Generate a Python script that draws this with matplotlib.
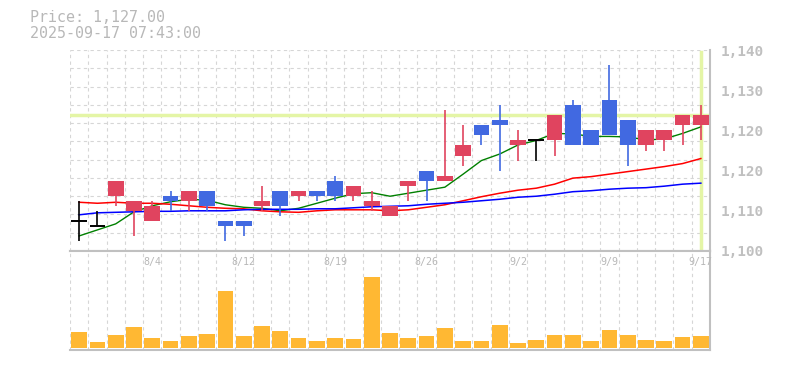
import numpy as np
import matplotlib
matplotlib.use("Agg")
import matplotlib.pyplot as plt

# ----- datos -----
dates = ["7/29", "7/30", "7/31", "8/1", "8/4", "8/5", "8/6", "8/7", "8/8", "8/12",
         "8/13", "8/14", "8/15", "8/18", "8/19", "8/20", "8/21", "8/22", "8/25", "8/26",
         "8/27", "8/28", "8/29", "9/1", "9/2", "9/3", "9/4", "9/5", "9/8", "9/9",
         "9/10", "9/11", "9/12", "9/16", "9/17"]
opens = [1106, 1105, 1111, 1108, 1106, 1111, 1110, 1112, 1106, 1106,
         1109, 1112, 1111, 1112, 1114, 1111, 1109, 1107, 1113, 1116,
         1114, 1119, 1125, 1126, 1121, 1122, 1122, 1129, 1124, 1130,
         1126, 1121, 1122, 1125, 1125]
closes = [1106, 1105, 1114, 1110, 1109, 1110, 1112, 1109, 1105, 1105,
          1110, 1109, 1112, 1111, 1111, 1113, 1110, 1109, 1114, 1114,
          1115, 1121, 1123, 1125, 1122, 1122, 1127, 1121, 1121, 1123,
          1121, 1124, 1124, 1127, 1127]
highs = [1110, 1108, 1114, 1110, 1110, 1112, 1112, 1112, 1106, 1106,
         1113, 1112, 1112, 1112, 1115, 1113, 1112, 1109, 1114, 1116,
         1128, 1125, 1125, 1129, 1124, 1122, 1127, 1130, 1124, 1137,
         1126, 1124, 1124, 1127, 1129]
lows = [1102, 1105, 1109, 1103, 1106, 1108, 1108, 1108, 1102, 1103,
        1108, 1107, 1110, 1110, 1110, 1110, 1108, 1107, 1110, 1110,
        1114, 1117, 1121, 1116, 1118, 1118, 1119, 1121, 1121, 1123,
        1117, 1120, 1120, 1121, 1122]
ma_short = [1103.0, 1104.2, 1105.4, 1107.8, 1109.0, 1109.8, 1110.3, 1110.1, 1109.2, 1108.7,
            1108.5, 1108.0, 1108.5, 1109.5, 1110.5, 1111.4, 1111.6, 1110.9, 1111.5, 1112.1,
            1112.7, 1115.3, 1118.0, 1119.3, 1121.1, 1122.0, 1123.4, 1123.3, 1122.8, 1122.8,
            1122.7, 1122.1, 1122.3, 1123.4, 1124.7]
ma_mid = [1109.7, 1109.5, 1109.7, 1109.5, 1109.5, 1109.3, 1109.0, 1108.7, 1108.5, 1108.4,
          1108.0, 1107.8, 1107.7, 1108.0, 1108.2, 1108.2, 1108.2, 1108.0, 1108.2, 1108.7,
          1109.2, 1110.0, 1110.8, 1111.5, 1112.1, 1112.5, 1113.3, 1114.5, 1114.8, 1115.3,
          1115.8, 1116.3, 1116.8, 1117.4, 1118.4]
ma_long = [1107.2, 1107.6, 1107.7, 1107.8, 1107.9, 1107.9, 1108.0, 1108.0, 1108.0, 1108.2,
           1108.3, 1108.3, 1108.3, 1108.4, 1108.4, 1108.6, 1108.8, 1108.9, 1109.0, 1109.3,
           1109.5, 1109.7, 1110.0, 1110.3, 1110.7, 1110.9, 1111.3, 1111.8, 1112.0, 1112.3,
           1112.5, 1112.6, 1112.9, 1113.3, 1113.5]
volumes = [1600, 570, 1270, 2070, 970, 670, 1170, 1370, 5670, 1170,
           2170, 1670, 970, 670, 970, 870, 7070, 1470, 970, 1170,
           1970, 670, 670, 2270, 470, 770, 1270, 1270, 670, 1770,
           1270, 770, 670, 1070, 1170]
label_dates = ["8/4", "8/12", "8/19", "8/26", "9/2", "9/9", "9/17"]
price_ticks = [1100, 1108, 1116, 1124, 1132, 1140]
last_price = 1127

GRAY = "#c0c0c0"
TXT = "#b8b8b8"
RED = "#e0445f"
BLUE = "#4169e1"
LIME = "#e4f5a6"
MONO = "DejaVu Sans Mono"

fig = plt.figure(figsize=(7.85, 3.7), dpi=100)
ax = fig.add_axes([70 / 785, 119 / 370, 640 / 785, 201 / 370])
axv = fig.add_axes([70 / 785, 20 / 370, 640 / 785, 99 / 370])

x = np.arange(len(dates))
n = len(dates)

#----- panel de precios -----
ax.set_xlim(-0.5, n - 0.5)
ax.set_ylim(1100, 1140)
for gx in np.arange(-0.5, n, 1.0):
    ax.axvline(gx, color="#d6d6d6", lw=0.8, ls=(0, (3, 3)), zorder=0)
    axv.axvline(gx, color="#d6d6d6", lw=0.8, ls=(0, (3, 3)), zorder=0)
for gy in np.linspace(1100, 1140, 12):
    ax.axhline(gy, color="#d6d6d6", lw=0.8, ls=(0, (3, 3)), zorder=0)

ax.axhline(last_price, color=LIME, lw=2.5, zorder=1)
ax.plot([x[-1], x[-1]], [1100.6, 1139.6], color=LIME, lw=2.5, zorder=1)

ax.plot(x, ma_short, color="green", lw=1.0, zorder=2)
ax.plot(x, ma_mid, color="red", lw=1.1, zorder=2)
ax.plot(x, ma_long, color="blue", lw=1.1, zorder=2)

w = 0.86
for i in range(n):
    o, c = opens[i], closes[i]
    if c > o:
        col = RED
    elif c < o:
        col = BLUE
    else:
        col = "black"
    ax.vlines(x[i], lows[i], highs[i], color=col, lw=1.2, zorder=3)
    if c == o:
        ax.hlines(o, x[i] - w / 2, x[i] + w / 2, color=col, lw=1.4, zorder=3)
    else:
        ax.bar(x[i], abs(c - o), bottom=min(o, c), width=w, color=col, zorder=4)

ax.set_xticks([])
ax.yaxis.tick_right()
ax.set_yticks(price_ticks)
ax.set_yticklabels(["{:,}".format(int(round(t, -1))) for t in price_ticks],
                   fontfamily=MONO, fontsize=10.4, color=GRAY, fontweight="bold")
ax.tick_params(axis="y", length=0, pad=8)
for s in ["top", "left"]:
    ax.spines[s].set_visible(False)
for s in ["right", "bottom"]:
    ax.spines[s].set_color(GRAY)
    ax.spines[s].set_linewidth(1.5)

#----- panel de volumen -----
axv.bar(x, volumes, width=w, color="#ffb833", zorder=2)
axv.set_xlim(-0.5, n - 0.5)
axv.set_ylim(-230, 9670)
axv.set_xticks([])
axv.set_yticks([])
axv.spines["left"].set_visible(False)
for s in ["top", "right", "bottom"]:
    axv.spines[s].set_color(GRAY)
    axv.spines[s].set_linewidth(1.5)

for d in label_dates:
    axv.text(dates.index(d), 0.89, d, transform=axv.get_xaxis_transform(),
             ha="center", va="center", fontfamily=MONO, fontsize=7.2, color=TXT)

#----- titulo -----
fig.text(30 / 785, 0.953, "Price: 1,127.00", fontfamily=MONO, fontsize=10.8,
         color=TXT, va="center", ha="left")
fig.text(30 / 785, 0.910, "2025-09-17 07:43:00", fontfamily=MONO, fontsize=10.8,
         color=TXT, va="center", ha="left")

fig.savefig("out.png", dpi=100)
